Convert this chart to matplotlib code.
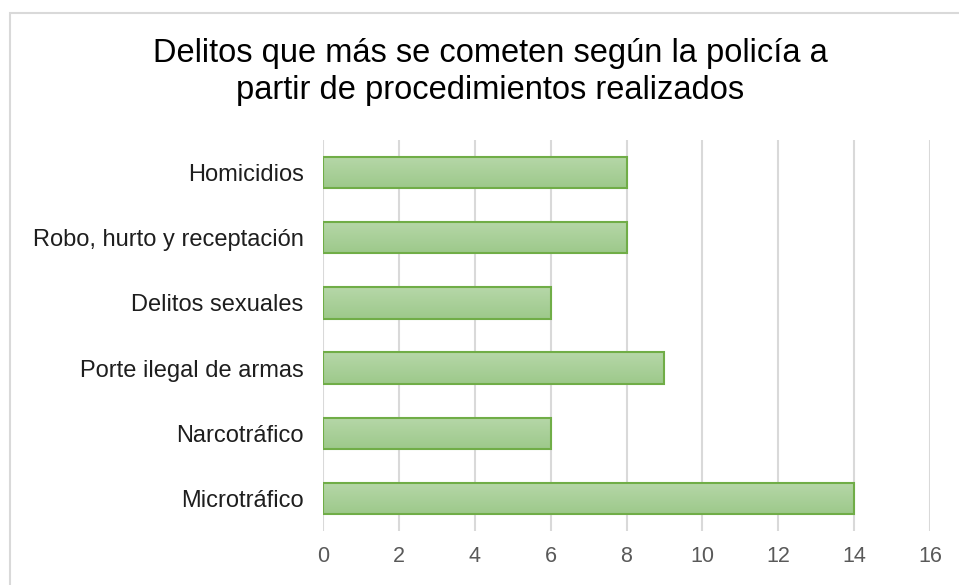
import matplotlib.pyplot as plt
import numpy as np
from matplotlib.colors import LinearSegmentedColormap
from matplotlib.patches import Rectangle

plt.rcParams['font.family'] = ['Liberation Sans', 'DejaVu Sans']

# data
categorias = ['Homicidios', 'Robo, hurto y receptación', 'Delitos sexuales',
              'Porte ilegal de armas', 'Narcotráfico', 'Microtráfico']
valores = [8, 8, 6, 9, 6, 14]
titulo = 'Delitos que más se cometen según la policía a\npartir de procedimientos realizados'

fig = plt.figure(figsize=(9.59, 5.85), dpi=100)
ax = fig.add_axes([0.3368, 0.0923, 0.6330, 0.6684])

# chart frame (only left and top visible in the crop)
fig.patches.append(Rectangle((0.0105, -0.05), 1.2, 0.978 + 0.05, transform=fig.transFigure,
                             fill=False, edgecolor='#d9d9d9', linewidth=1.5))

y = np.arange(len(categorias))
bars = ax.barh(y, valores, height=0.48, color='none', edgecolor='#70ad47', linewidth=1.5, zorder=3)

# excel-like vertical gradient inside each bar
grad = LinearSegmentedColormap.from_list('g', ['#b6d7a8', '#9dc98b'])
for b in bars:
    x0, y0, w, h = b.get_x(), b.get_y(), b.get_width(), b.get_height()
    im = ax.imshow(np.linspace(0, 1, 50).reshape(-1, 1), cmap=grad, aspect='auto',
                   extent=[x0, x0 + w, y0 + h, y0], zorder=2, interpolation='bicubic')
    im.set_clip_path(b)

ax.set_xlim(0, 16)
ax.set_ylim(len(categorias) - 0.5, -0.5)
ax.set_xticks(range(0, 17, 2))
ax.set_yticks(y)
ax.set_yticklabels(categorias, fontsize=17, color='#1e1e1e')
ax.tick_params(axis='x', labelsize=15.5, labelcolor='#595959', length=0, pad=11)
ax.tick_params(axis='y', length=0, pad=14)
ax.grid(axis='x', color='#d9d9d9', linewidth=1.5, zorder=0)
ax.set_axisbelow(True)
for s in ax.spines.values():
    s.set_visible(False)

fig.text(0.511, 0.877, titulo, ha='center', va='center', fontsize=23.5, color='#000000',
         linespacing=1.22)

fig.savefig('out.png', dpi=100)
